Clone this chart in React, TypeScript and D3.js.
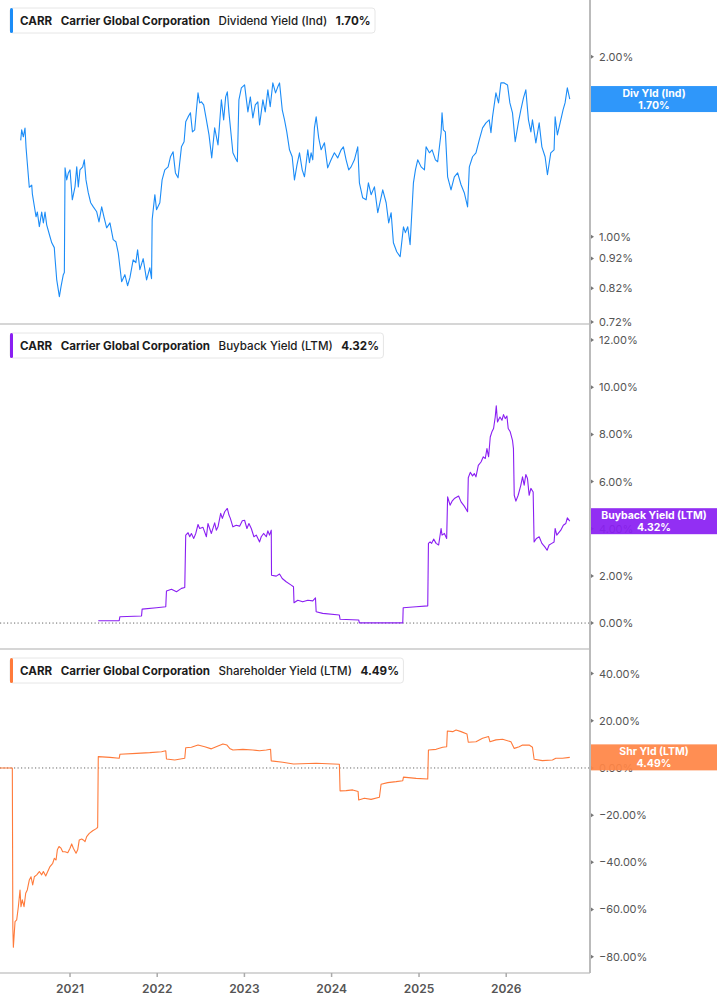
import React, { useEffect, useRef } from 'react';
import * as d3 from 'd3';

const ticker = 'CARR';
const company = 'Carrier Global Corporation';

// x axis
const yearTicks = [2021, 2022, 2023, 2024, 2025, 2026];
const dateRange = [2020.199, 2026.961]; // decimal years shown on the x axis

// y ticks per panel
const divTicks = [0.72, 0.82, 0.92, 1.0, 2.0];
const buybackTicks = [0, 2, 4, 6, 8, 10, 12];
const shareholderTicks = [-80, -60, -40, -20, 0, 20, 40];

// [decimal year, yield %]
const divYield: [number, number][] = [
  [2020.436,1.45],[2020.447,1.51],[2020.466,1.47],[2020.485,1.52],[2020.497,1.41],[2020.511,1.33],[2020.534,1.21],[2020.562,1.22],[2020.569,1.18],[2020.611,1.08],[2020.626,1.10],[2020.649,1.04],[2020.676,1.10],[2020.695,1.055],[2020.714,1.10],[2020.733,1.047],[2020.771,1.00],[2020.791,0.977],[2020.82,0.959],[2020.828,0.922],[2020.848,0.847],[2020.878,0.794],[2020.897,0.825],[2020.923,0.864],[2020.935,0.871],
  [2020.943,1.304],[2020.962,1.245],[2020.981,1.279],[2021.0,1.294],[2021.026,1.153],[2021.057,1.212],[2021.077,1.309],[2021.095,1.212],[2021.114,1.294],[2021.145,1.309],[2021.164,1.345],[2021.183,1.245],[2021.209,1.185],[2021.237,1.14],[2021.267,1.122],[2021.306,1.101],[2021.332,1.059],[2021.363,1.122],[2021.389,1.08],[2021.42,1.035],[2021.458,1.055],[2021.495,0.989],[2021.526,0.981],[2021.553,0.94],[2021.572,0.891],[2021.592,0.841],[2021.629,0.864],[2021.66,0.828],[2021.687,0.854],[2021.724,0.915],[2021.755,0.905],[2021.775,0.951],[2021.801,0.881],[2021.839,0.919],[2021.878,0.847],[2021.915,0.887],[2021.935,0.851],
  [2021.942,1.068],[2021.973,1.176],[2021.992,1.11],[2022.03,1.14],[2022.056,1.245],[2022.087,1.294],[2022.125,1.309],[2022.152,1.361],[2022.182,1.387],[2022.209,1.279],[2022.239,1.255],[2022.278,1.414],[2022.308,1.442],[2022.327,1.557],[2022.354,1.587],[2022.381,1.612],[2022.404,1.498],[2022.43,1.51],[2022.45,1.631],[2022.468,1.741],[2022.487,1.675],[2022.507,1.682],[2022.533,1.662],[2022.564,1.569],[2022.594,1.481],[2022.625,1.355],[2022.659,1.521],[2022.697,1.425],[2022.716,1.551],[2022.736,1.695],[2022.762,1.569],[2022.785,1.714],[2022.804,1.748],[2022.823,1.612],[2022.842,1.51],[2022.868,1.382],[2022.896,1.355],[2022.919,1.335],[2022.937,1.695],[2022.965,1.775],
  [2023.002,1.795],[2023.04,1.618],[2023.068,1.714],[2023.097,1.581],[2023.125,1.662],[2023.154,1.682],[2023.174,1.539],[2023.212,1.695],[2023.239,1.618],[2023.269,1.761],[2023.296,1.65],[2023.326,1.809],[2023.357,1.741],[2023.383,1.782],[2023.403,1.809],[2023.434,1.631],[2023.46,1.569],[2023.486,1.498],[2023.517,1.398],[2023.548,1.361],[2023.574,1.245],[2023.603,1.319],[2023.632,1.382],[2023.663,1.294],[2023.689,1.26],[2023.727,1.398],[2023.746,1.33],[2023.765,1.382],[2023.784,1.345],[2023.803,1.521],[2023.823,1.587],[2023.852,1.464],[2023.88,1.398],[2023.918,1.436],[2023.955,1.304],[2023.994,1.345],
  [2024.032,1.382],[2024.07,1.355],[2024.109,1.398],[2024.135,1.414],[2024.166,1.345],[2024.196,1.294],[2024.223,1.309],[2024.261,1.345],[2024.299,1.414],[2024.318,1.231],[2024.356,1.162],[2024.395,1.153],[2024.421,1.231],[2024.452,1.176],[2024.49,1.212],[2024.528,1.097],[2024.555,1.144],[2024.585,1.198],[2024.624,1.14],[2024.653,1.055],[2024.681,1.097],[2024.707,0.977],[2024.745,0.944],[2024.784,0.926],[2024.822,1.039],[2024.844,1.016],[2024.871,1.039],[2024.898,0.97],[2024.936,1.231],[2024.959,1.294],[2024.985,1.345],
  [2025.024,1.309],[2025.062,1.294],[2025.081,1.414],[2025.119,1.382],[2025.15,1.398],[2025.188,1.345],[2025.214,1.335],[2025.253,1.493],[2025.264,1.612],[2025.279,1.51],[2025.302,1.498],[2025.328,1.26],[2025.367,1.198],[2025.405,1.26],[2025.443,1.279],[2025.482,1.222],[2025.519,1.185],[2025.557,1.122],[2025.577,1.309],[2025.614,1.361],[2025.653,1.382],[2025.691,1.453],[2025.729,1.521],[2025.768,1.551],[2025.805,1.569],[2025.825,1.493],[2025.843,1.587],[2025.882,1.741],[2025.912,1.675],[2025.939,1.809],[2025.977,1.809],
  [2026.015,1.795],[2026.042,1.675],[2026.072,1.612],[2026.103,1.442],[2026.141,1.557],[2026.168,1.631],[2026.198,1.708],[2026.225,1.761],[2026.255,1.569],[2026.283,1.498],[2026.301,1.569],[2026.34,1.436],[2026.378,1.551],[2026.409,1.414],[2026.446,1.361],[2026.473,1.27],[2026.511,1.382],[2026.549,1.398],[2026.561,1.587],[2026.587,1.481],[2026.626,1.569],[2026.652,1.631],[2026.675,1.675],[2026.701,1.775],[2026.729,1.70],
];

const buybackYield: [number, number][] = [
  [2021.324,0.10],[2021.564,0.10],[2021.572,0.27],[2021.82,0.30],[2021.827,0.59],[2021.992,0.65],[2022.098,0.69],
  [2022.106,1.36],[2022.164,1.43],[2022.221,1.33],[2022.278,1.47],[2022.316,1.51],
  [2022.327,3.73],[2022.354,3.83],[2022.373,3.66],[2022.392,3.80],[2022.419,3.59],[2022.442,3.80],[2022.468,4.18],[2022.487,4.01],[2022.525,4.06],[2022.564,3.66],[2022.582,4.22],[2022.621,3.80],[2022.659,4.25],[2022.678,3.94],[2022.697,4.08],[2022.728,4.65],[2022.747,4.44],[2022.774,4.72],[2022.804,4.86],[2022.823,4.58],[2022.839,4.44],[2022.868,4.08],[2022.907,4.15],[2022.945,4.11],[2022.976,4.34],[2023.002,4.36],[2023.029,4.01],[2023.052,4.22],[2023.079,4.01],[2023.109,3.66],[2023.136,3.73],[2023.174,3.44],[2023.193,3.66],[2023.22,3.80],[2023.251,3.66],[2023.269,3.91],[2023.288,3.73],[2023.308,3.94],
  [2023.311,2.03],[2023.365,1.99],[2023.403,2.08],[2023.434,1.89],[2023.479,1.75],[2023.537,1.61],[2023.563,1.54],
  [2023.569,0.86],[2023.612,0.97],[2023.669,0.90],[2023.727,0.97],[2023.784,0.94],[2023.815,1.07],
  [2023.823,0.48],[2023.898,0.41],[2024.089,0.34],[2024.097,0.16],[2024.31,0.13],[2024.318,0.01],[2024.814,0.01],
  [2024.819,0.65],[2024.967,0.69],[2025.10,0.73],
  [2025.108,3.38],[2025.127,3.44],[2025.145,3.38],[2025.168,3.56],[2025.196,3.38],[2025.225,3.31],[2025.253,4.01],[2025.264,3.73],[2025.291,3.80],[2025.317,3.59],
  [2025.328,5.35],[2025.356,5.00],[2025.379,5.17],[2025.405,5.28],[2025.454,5.39],[2025.482,5.14],[2025.519,4.96],[2025.557,4.72],
  [2025.565,6.16],[2025.588,6.39],[2025.614,6.24],[2025.634,6.34],[2025.653,6.20],[2025.68,6.69],[2025.711,6.83],[2025.737,7.05],[2025.76,6.98],[2025.779,7.40],[2025.798,7.05],[2025.817,7.89],[2025.836,8.11],[2025.855,8.25],[2025.874,8.74],[2025.886,9.21],[2025.9,8.53],[2025.928,8.74],[2025.951,8.60],[2025.969,8.84],[2025.989,8.67],[2026.008,8.78],[2026.023,8.25],[2026.046,8.11],[2026.072,7.75],[2026.083,7.40],
  [2026.092,5.42],[2026.111,5.17],[2026.137,5.42],[2026.168,5.85],[2026.187,6.20],[2026.206,5.85],[2026.225,6.30],[2026.244,6.13],[2026.263,5.42],[2026.283,5.71],[2026.309,5.56],
  [2026.32,3.44],[2026.347,3.59],[2026.378,3.66],[2026.409,3.38],[2026.443,3.23],[2026.469,3.09],[2026.492,3.31],[2026.523,3.38],[2026.549,3.44],[2026.561,4.01],[2026.58,3.73],[2026.626,3.94],[2026.655,4.15],[2026.683,4.22],[2026.701,4.46],[2026.729,4.32],
];

const shareholderYield: [number, number][] = [
  [2020.199,0],[2020.34,0],[2020.346,-68.0],[2020.352,-76.0],[2020.371,-65.1],[2020.39,-64.4],[2020.409,-58.8],[2020.428,-51.7],[2020.439,-58.8],[2020.454,-55.9],[2020.474,-58.8],[2020.493,-53.1],[2020.511,-51.7],[2020.534,-47.5],[2020.554,-46.1],[2020.573,-49.6],[2020.592,-46.1],[2020.619,-45.3],[2020.649,-43.9],[2020.676,-45.3],[2020.695,-43.9],[2020.722,-45.8],[2020.745,-43.9],[2020.771,-41.8],[2020.802,-40.4],[2020.82,-38.3],[2020.84,-39.0],[2020.855,-34.7],[2020.874,-33.3],[2020.897,-34.0],[2020.916,-35.5],[2020.943,-35.5],[2020.974,-35.9],[2021.0,-34.0],[2021.019,-32.2],[2021.038,-34.0],[2021.069,-36.1],[2021.088,-34.7],[2021.106,-30.5],[2021.134,-30.1],[2021.152,-30.5],[2021.172,-31.2],[2021.191,-29.1],[2021.221,-27.7],[2021.26,-26.6],[2021.306,-25.6],[2021.317,-25.1],
  [2021.324,4.8],[2021.458,4.5],[2021.564,4.1],[2021.572,5.8],[2021.763,6.2],[2021.915,6.5],[2022.049,6.9],[2022.098,7.3],
  [2022.106,3.8],[2022.201,3.4],[2022.316,4.1],
  [2022.327,8.6],[2022.392,8.8],[2022.468,9.7],[2022.545,9.0],[2022.621,8.1],[2022.697,9.3],[2022.754,10.2],[2022.8,9.7],[2022.831,8.3],[2022.868,7.6],[2022.983,7.9],[2023.097,7.6],[2023.174,7.3],[2023.251,7.6],[2023.3,7.9],
  [2023.308,3.0],[2023.44,2.4],[2023.563,1.7],[2023.823,2.0],[2024.089,1.6],
  [2024.097,-9.7],[2024.166,-9.6],[2024.241,-9.3],[2024.303,-10.0],
  [2024.31,-13.6],[2024.375,-12.8],[2024.452,-13.3],[2024.547,-12.4],
  [2024.566,-6.9],[2024.642,-6.2],[2024.738,-5.8],[2024.814,-5.4],[2024.822,-3.9],[2024.967,-4.4],[2025.1,-4.7],
  [2025.108,7.6],[2025.196,7.9],[2025.271,8.8],[2025.317,9.0],
  [2025.325,15.7],[2025.386,15.4],[2025.425,16.1],[2025.482,15.4],[2025.55,14.4],
  [2025.565,10.9],[2025.653,11.1],[2025.729,12.6],[2025.798,13.3],[2025.814,11.1],[2025.882,11.9],[2025.958,12.2],[2026.054,11.1],[2026.092,8.3],[2026.149,9.0],[2026.187,9.7],[2026.263,9.7],[2026.301,8.8],
  [2026.32,3.7],[2026.415,3.1],[2026.53,3.4],[2026.569,4.1],[2026.645,4.1],[2026.729,4.49],
];

const W = 717;
const H = 1005;
const PLOT_RIGHT = 590;
const FONT = 'Inter, "Noto Sans", sans-serif';

const toDate = (y: number) => {
  const yr = Math.floor(y);
  const a = new Date(yr, 0, 1).getTime();
  const b = new Date(yr + 1, 0, 1).getTime();
  return new Date(a + (y - yr) * (b - a));
};

interface Panel {
  name: string;
  short: string;
  value: string;
  color: string;
  boxColor: string;
  data: [number, number][];
  ticks: number[];
  domain: [number, number];
  log: boolean;
  zeroLine: boolean;
  top: number;
  bottom: number;
}

const panels: Panel[] = [
  { name: 'Dividend Yield (Ind)', short: 'Div Yld (Ind)', value: '1.70%', color: '#1b8cf7', boxColor: '#1f8ffa', data: divYield, ticks: divTicks, domain: [0.7145, 2.49], log: true, zeroLine: false, top: 0, bottom: 324 },
  { name: 'Buyback Yield (LTM)', short: 'Buyback Yield (LTM)', value: '4.32%', color: '#8a1ff2', boxColor: '#8a1ff2', data: buybackYield, ticks: buybackTicks, domain: [-1.1, 12.64], log: false, zeroLine: true, top: 325, bottom: 649 },
  { name: 'Shareholder Yield (LTM)', short: 'Shr Yld (LTM)', value: '4.49%', color: '#ff7a3a', boxColor: '#ff8546', data: shareholderYield, ticks: shareholderTicks, domain: [-86.9, 50.0], log: false, zeroLine: true, top: 650, bottom: 973 },
];

export default function App() {
  const svgRef = useRef<SVGSVGElement>(null);

  useEffect(() => {
    if (!svgRef.current) return;
    document.body.style.margin = '0';
    const svg = d3.select(svgRef.current);
    svg.selectAll('*').remove();

    const x = d3.scaleTime()
      .domain(dateRange.map(toDate))
      .range([0, PLOT_RIGHT]);

    panels.forEach(p => {
      const y: any = (p.log ? d3.scaleLog() : d3.scaleLinear())
        .domain(p.domain)
        .range([p.bottom, p.top]);
      const g = svg.append('g');

      // panel separator
      g.append('line')
        .attr('x1', 0).attr('x2', PLOT_RIGHT)
        .attr('y1', p.bottom).attr('y2', p.bottom)
        .attr('stroke', '#c8c8c8').attr('stroke-width', 1.5);

      if (p.zeroLine) {
        g.append('line')
          .attr('x1', 0).attr('x2', PLOT_RIGHT)
          .attr('y1', y(0)).attr('y2', y(0))
          .attr('stroke', '#666').attr('stroke-width', 1)
          .attr('stroke-dasharray', '1.2,2.3');
      }

      const line = d3.line<[number, number]>()
        .x(d => x(toDate(d[0])))
        .y(d => y(d[1]));

      g.append('path')
        .datum(p.data)
        .attr('d', line)
        .attr('fill', 'none')
        .attr('stroke', p.color)
        .attr('stroke-width', 1.1)
        .attr('stroke-linejoin', 'round');

      // y ticks
      p.ticks.forEach(t => {
        const ty = y(t);
        g.append('path')
          .attr('d', `M${PLOT_RIGHT + 1},${ty - 2}L${PLOT_RIGHT + 4},${ty}L${PLOT_RIGHT + 1},${ty + 2}Z`)
          .attr('fill', '#777');
        g.append('text')
          .attr('x', PLOT_RIGHT + 9).attr('y', ty)
          .attr('dy', '0.36em')
          .style('font-family', FONT).style('font-size', '11px')
          .style('fill', '#555')
          .text(d3.format('.2f')(t) + '%');
      });

      // value box on the right (covers the tick label under it)
      const last = p.data[p.data.length - 1];
      const ly = y(last[1]);
      g.append('rect')
        .attr('x', PLOT_RIGHT).attr('y', ly - 13)
        .attr('width', W - PLOT_RIGHT).attr('height', 26)
        .attr('fill', p.boxColor).attr('fill-opacity', 0.93);

      const cx = (PLOT_RIGHT + W) / 2 + 0.5;
      g.append('text')
        .attr('x', cx).attr('y', ly - 2.5)
        .attr('text-anchor', 'middle')
        .style('font-family', FONT).style('font-size', '10.5px').style('font-weight', 700)
        .style('fill', '#fff')
        .text(p.short);
      g.append('text')
        .attr('x', cx).attr('y', ly + 9.5)
        .attr('text-anchor', 'middle')
        .style('font-family', FONT).style('font-size', '10.5px').style('font-weight', 700)
        .style('fill', '#fff')
        .text(p.value);

      // legend
      const lg = g.append('g');
      const bg = lg.append('rect')
        .attr('x', 10).attr('y', p.top + 8)
        .attr('height', 25).attr('rx', 3)
        .attr('fill', '#fff').attr('stroke', '#e6e6e6');
      lg.append('rect')
        .attr('x', 10).attr('y', p.top + 8)
        .attr('width', 3).attr('height', 25).attr('rx', 1.5)
        .attr('fill', p.color);
      const parts = [
        { t: ticker, w: 700 },
        { t: company, w: 700 },
        { t: p.name, w: 500 },
        { t: p.value, w: 700 },
      ];
      let tx = 20;
      parts.forEach(part => {
        const el = lg.append('text')
          .attr('x', tx).attr('y', p.top + 24.5)
          .style('font-family', FONT).style('font-size', '11.6px')
          .style('font-weight', part.w)
          .style('fill', '#1c1c1c')
          .text(part.t);
        const len = (el.node() as SVGTextElement).getComputedTextLength();
        tx += len + 8.5;
      });
      bg.attr('width', tx - 10 - 4);
    });

    // right axis line
    svg.append('line')
      .attr('x1', PLOT_RIGHT).attr('x2', PLOT_RIGHT)
      .attr('y1', 0).attr('y2', panels[2].bottom)
      .attr('stroke', '#bbb').attr('stroke-width', 2);

    // x axis
    const xa = svg.append('g');
    yearTicks.forEach(yr => {
      const px = x(toDate(yr));
      xa.append('line')
        .attr('x1', px).attr('x2', px)
        .attr('y1', panels[2].bottom).attr('y2', panels[2].bottom + 4)
        .attr('stroke', '#aaa').attr('stroke-width', 1.5);
      xa.append('text')
        .attr('x', px).attr('y', panels[2].bottom + 20)
        .attr('text-anchor', 'middle')
        .style('font-family', FONT).style('font-size', '12px').style('font-weight', 600)
        .style('fill', '#555')
        .text(String(yr));
    });
  }, []);

  return <svg ref={svgRef} width={W} height={H} style={{ display: 'block', background: '#fff' }} />;
}
